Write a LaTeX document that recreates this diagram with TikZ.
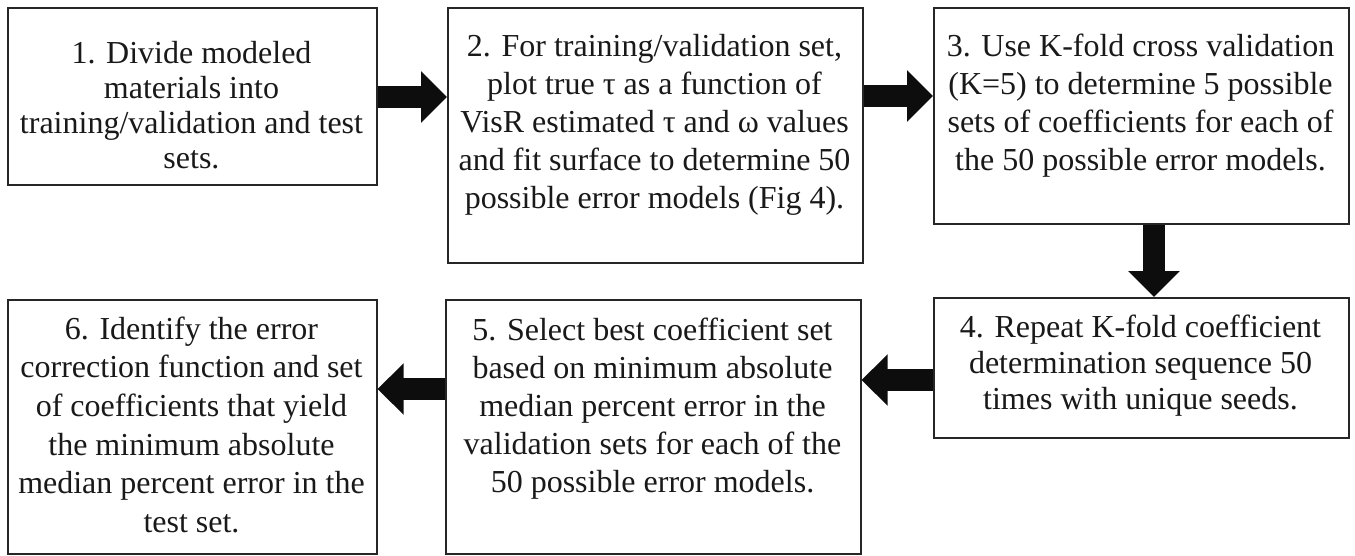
\documentclass[tikz,border=0pt]{standalone}
\usepackage{fontspec}
\setmainfont{Liberation Serif}
\usetikzlibrary{arrows.meta}
\begin{document}
\begin{tikzpicture}[x=1pt,y=-1pt,
  box/.style={draw=black!85, line width=1.6pt, fill=white, rectangle, inner sep=0pt, anchor=north west},
  txt/.style={anchor=north, inner sep=0pt, align=center, font=\fontsize{32}{38}\selectfont, text=black!90},
  fat/.style={line width=22pt, black!95, -{Triangle[length=26pt,width=50pt]}}]
\useasboundingbox (0,0) rectangle (1355,555);
% boxes
\node[box, minimum width=369pt, minimum height=177pt] (b1) at (7,7) {};
\node[box, minimum width=415pt, minimum height=255pt] (b2) at (447,7) {};
\node[box, minimum width=415pt, minimum height=216pt] (b3) at (933,7) {};
\node[box, minimum width=415pt, minimum height=140pt] (b4) at (933,297) {};
\node[box, minimum width=415pt, minimum height=254pt] (b5) at (445,299) {};
\node[box, minimum width=369pt, minimum height=254pt] (b6) at (7,299) {};
% texts
\node[txt, font=\fontsize{32}{35}\selectfont] (t1) at (191.5,39) {\rule{0pt}{24pt}1. Divide modeled\\materials into\\training/validation and test\\sets.};
\node[txt] (t2) at (654.5,32) {\rule{0pt}{24pt}2. For training/validation set,\\plot true τ as a function of\\VisR estimated τ and ω values\\and fit surface to determine 50\\possible error models (Fig 4).};
\node[txt] (t3) at (1140.5,32) {\rule{0pt}{24pt}3. Use K-fold cross validation\\(K=5) to determine 5 possible\\sets of coefficients for each of\\the 50 possible error models.};
\node[txt, font=\fontsize{32}{36}\selectfont] (t4) at (1140.5,313) {\rule{0pt}{24pt}4. Repeat K-fold coefficient\\determination sequence 50\\times with unique seeds.};
\node[txt] (t5) at (652.5,316) {\rule{0pt}{24pt}5. Select best coefficient set\\based on minimum absolute\\median percent error in the\\validation sets for each of the\\50 possible error models.};
\node[txt, font=\fontsize{32}{38.6}\selectfont] (t6) at (191.5,315) {\rule{0pt}{24pt}6. Identify the error\\correction function and set\\of coefficients that yield\\the minimum absolute\\median percent error in the\\test set.};
% arrow guide coordinates
\coordinate (ya) at (0,97);
\coordinate (yb) at (0,96);
\coordinate (xc) at (1154,0);
\coordinate (yd) at (0,380);
\coordinate (ye) at (0,389);
% arrows
\draw[fat] (b1.east |- ya) -- (b2.west |- ya);
\draw[fat] (b2.east |- yb) -- (b3.west |- yb);
\draw[fat] (b3.south -| xc) -- (b4.north -| xc);
\draw[fat] (b4.west |- yd) -- (b5.east |- yd);
\draw[fat] (b5.west |- ye) -- (b6.east |- ye);
\end{tikzpicture}
\end{document}
